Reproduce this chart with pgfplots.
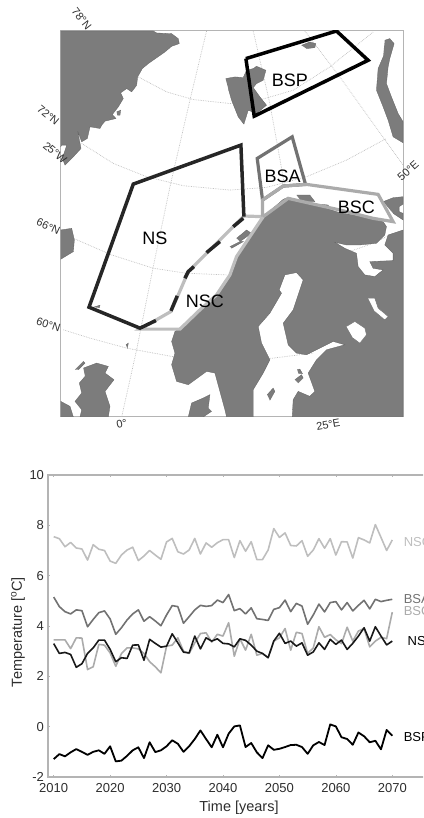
\documentclass[border=0pt]{standalone}
\usepackage{pgfplots}
\pgfplotsset{compat=1.18}
\usepackage{fontspec}
\setmainfont{Liberation Sans}
\definecolor{land}{HTML}{7C7C7C}
\definecolor{frm}{HTML}{B4B4B4}
\definecolor{txt}{HTML}{2E2E2E}
\definecolor{cNSC}{HTML}{BEBEBE}
\definecolor{cBSC}{HTML}{ABABAB}
\definecolor{cBSA}{HTML}{727272}
\definecolor{cNS}{HTML}{262626}
\definecolor{grat}{HTML}{BDBDBD}
\newcommand{\fs}[1]{\fontsize{#1pt}{#1pt}\selectfont}
\tikzset{fs17/.style={font=\fs{18},inner sep=0pt},fs10/.style={font=\fs{11},text=txt,inner sep=0pt}}
\pgfplotstableread{
year NSC BSA BSC NS BSP
2010 7.55 5.15 3.45 3.30 -1.29
2011 7.47 4.77 3.45 2.91 -1.09
2012 7.15 4.57 3.45 2.95 -1.18
2013 7.32 4.48 3.10 2.87 -1.02
2014 7.10 4.64 3.53 2.36 -0.89
2015 7.06 4.61 3.52 2.50 -1.00
2016 6.62 3.97 2.27 2.91 -1.12
2017 7.23 4.26 2.38 3.13 -1.00
2018 7.05 4.53 3.27 3.44 -0.94
2019 7.00 4.60 3.24 3.44 -1.08
2020 6.58 4.28 2.93 3.07 -0.78
2021 6.49 3.67 2.40 2.58 -1.38
2022 6.82 3.93 2.90 2.74 -1.35
2023 7.02 4.24 3.13 2.71 -1.16
2024 7.13 4.48 3.13 3.24 -0.94
2025 6.60 4.64 3.09 3.25 -0.82
2026 6.78 4.19 2.91 2.64 -1.25
2027 7.00 4.37 2.58 3.47 -0.62
2028 6.82 4.20 2.38 3.31 -1.01
2029 6.65 4.01 2.14 3.16 -0.94
2030 7.34 4.44 3.20 3.20 -0.78
2031 7.48 4.81 3.24 3.69 -0.54
2032 6.95 4.77 3.53 3.33 -0.68
2033 6.86 4.11 3.00 2.96 -1.00
2034 7.02 4.37 2.91 2.93 -0.78
2035 7.48 4.64 3.33 3.60 -0.49
2036 6.86 4.82 3.70 3.09 -0.15
2037 7.30 4.78 3.73 3.53 -0.49
2038 7.13 4.81 3.36 3.40 -0.82
2039 7.31 5.03 3.67 3.49 -0.32
2040 7.43 4.93 3.60 3.31 -0.82
2041 7.43 5.25 4.13 3.29 -0.28
2042 6.72 4.61 2.80 3.17 0.01
2043 7.39 4.69 3.49 3.49 0.05
2044 6.97 4.48 3.04 3.43 -0.81
2045 7.35 4.72 3.67 3.24 -0.65
2046 6.64 4.29 2.84 3.00 -1.02
2047 6.64 4.26 2.91 2.91 -1.25
2048 7.02 4.22 2.74 2.74 -0.74
2049 7.87 4.66 3.40 3.40 -0.92
2050 7.52 4.73 3.53 3.71 -0.88
2051 7.70 5.03 3.90 3.31 -0.81
2052 7.20 4.57 3.04 3.40 -0.73
2053 7.18 4.90 3.75 3.20 -0.72
2054 7.39 4.79 3.70 3.33 -0.81
2055 6.77 4.07 2.91 2.84 -1.08
2056 7.02 4.44 3.13 2.97 -0.74
2057 7.47 4.87 3.97 3.33 -0.61
2058 7.09 4.56 3.55 3.07 -0.73
2059 7.47 4.93 3.66 3.47 0.09
2060 6.82 4.97 3.45 3.27 0.01
2061 7.35 4.64 3.30 3.44 -0.42
2062 7.34 4.93 3.95 3.07 -0.49
2063 6.70 4.60 3.40 3.31 -0.72
2064 7.51 4.82 3.80 3.60 -0.23
2065 7.42 5.02 3.90 3.93 -0.38
2066 7.30 4.68 3.17 3.40 -0.62
2067 8.03 5.06 3.40 3.97 -0.56
2068 7.52 4.97 3.55 3.60 -0.90
2069 7.00 5.02 3.50 3.25 -0.13
2070 7.42 5.06 4.55 3.40 -0.36
}\series
\begin{document}
\begin{tikzpicture}[x=1pt,y=1pt]
\path[use as bounding box] (0,0) rectangle (423,818);
\clip (0,0) rectangle (423,818);
% MAP
\begin{axis}[
  at={(60.7pt,401pt)}, anchor=south west, scale only axis,
  width=342.4pt, height=386pt,
  xmin=62, xmax=1090, ymin=92, ymax=1252, y dir=reverse,
  xtick=\empty, ytick=\empty, clip mode=individual,
  axis line style={frm, line width=1pt},
  every axis plot/.append style={no marks, line join=miter},
]
% graticule
\pgfplotsset{gr/.style={grat, line width=0.7pt, densely dotted}}
\addplot[gr] coordinates {(295,230)(380,275)(460,298)(570,310)(640,305)(760,270)(870,200)(1000,95)};
\addplot[gr] coordinates {(125,430)(220,490)(320,530)(430,557)(570,570)(680,562)(800,530)(920,480)(1040,415)};
\addplot[gr] coordinates {(65,700)(100,715)(215,765)(340,805)(440,820)(560,825)};
\addplot[gr] coordinates {(900,765)(1000,730)(1060,700)};
\addplot[gr] coordinates {(70,990)(150,1015)(260,1045)(395,1070)(550,1085)(700,1075)(820,1060)};
\addplot[gr] coordinates {(245,1252)(290,1050)(340,800)(390,560)(450,300)(500,92)};
\addplot[gr] coordinates {(640,92)(690,310)(735,560)};
\addplot[gr] coordinates {(795,92)(900,230)(1090,495)};
% land
\pgfplotsset{ld/.style={fill=land, draw=land!80!black, line width=0.3pt}, wh/.style={fill=white, draw=land!80!black, line width=0.3pt}}
% Greenland
\addplot[ld] coordinates {(62,92)(340,92)(350,98)(395,100)(415,115)(418,130)(395,138)(375,155)(325,190)(307,205)(293,230)(290,255)(275,275)(260,265)(242,278)(250,295)(235,320)(217,343)(228,355)(195,363)(185,375)(180,385)(150,380)(142,415)(125,425)(113,393)(123,445)(100,470)(75,495)(67,475)(80,435)(65,435)(62,440)};
\addplot[ld] coordinates {(230,335)(242,330)(240,345)(232,345)};
% Svalbard
\addplot[ld] coordinates {(557,235)(585,230)(610,232)(620,210)(640,205)(650,198)(678,210)(670,240)(650,250)(640,262)(660,290)(680,315)(650,340)(625,330)(612,372)(595,350)(575,300)(565,265)};
\addplot[ld] coordinates {(785,135)(810,125)(828,130)(825,142)(800,145)};
% Novaya Zemlya
\addplot[ld] coordinates {(1035,120)(1050,115)(1063,130)(1050,175)(1045,200)(1040,250)(1055,290)(1075,340)(1090,365)(1090,428)(1060,410)(1045,360)(1030,320)(1010,270)(1015,205)(1030,170)};
% mainland
\addplot[ld] coordinates {(670,650)(730,598)(745,592)(800,605)(900,638)(1000,655)(1030,665)(1040,680)(1035,705)(1010,730)(960,735)(920,735)(885,727)(915,745)(950,760)(955,800)(975,825)(1005,830)(1030,810)(1000,805)(990,785)(1060,782)(1060,760)(1035,735)(1045,705)(1090,690)(1090,1252)(757,1252)(760,1200)(775,1175)(810,1190)(825,1175)(805,1120)(830,1080)(860,1050)(915,1035)(880,1025)(840,1045)(800,1065)(770,1060)(745,1035)(730,970)(760,930)(790,840)(770,818)(735,825)(718,870)(725,880)(690,940)(655,980)(665,1030)(690,1080)(670,1120)(640,1170)(640,1252)(560,1252)(555,1230)(525,1120)(500,1115)(445,1155)(410,1145)(395,1095)(405,1060)(395,1025)(405,995)(425,980)(480,930)(530,885)(570,825)(590,770)};
% lakes
\addplot[wh] coordinates {(920,980)(945,965)(975,985)(980,1005)(960,1030)(940,1015)};
\addplot[wh] coordinates {(985,895)(1005,895)(1015,925)(1045,950)(1035,960)(1005,935)};
% islands
\addplot[ld] coordinates {(770,585)(810,585)(825,605)(785,605)};
\addplot[ld] coordinates {(845,613)(865,615)(868,622)(848,620)};
\addplot[ld] coordinates {(1030,605)(1060,593)(1090,590)(1090,612)(1078,620)(1078,635)(1090,640)(1090,660)(1060,640)};
\addplot[ld] coordinates {(590,715)(620,690)(635,700)(600,725)};
\addplot[ld] coordinates {(570,740)(600,725)(610,725)(575,745)};
\addplot[ld] coordinates {(105,1110)(130,1085)(135,1090)(115,1110)};
\addplot[ld] coordinates {(130,1105)(170,1090)(205,1100)(195,1120)(222,1140)(195,1175)(210,1220)(205,1252)(120,1252)(125,1230)(105,1205)(125,1180)(118,1150)(135,1130)};
\addplot[ld] coordinates {(62,1205)(90,1220)(100,1252)(62,1252)};
\addplot[ld] coordinates {(445,1252)(455,1210)(490,1195)(510,1185)(505,1225)(515,1235)(490,1252)};
\addplot[ld] coordinates {(682,1185)(700,1165)(705,1175)(690,1202)};
\addplot[ld] coordinates {(765,1140)(785,1125)(790,1135)(775,1150)};
\addplot[ld] coordinates {(772,1110)(780,1108)(788,1122)(776,1122)};
\addplot[ld] coordinates {(62,690)(95,685)(103,720)(100,755)(62,778)};
\addplot[ld] coordinates {(258,1035)(265,1030)(262,1046)};
\addplot[ld] coordinates {(160,922)(180,916)(178,924)};
% regions
\addplot[cNSC, line width=3.2pt] coordinates {(670,650)(612,648)(445,815)(415,885)(393,935)(300,988)(420,988)(480,930)(530,885)(570,825)(590,770)(670,650)};
\addplot[cBSA, line width=3.2pt] coordinates {(668,600)(652,475)(757,410)(797,553)(730,558)(668,600)};
\addplot[cBSC, line width=3.2pt] coordinates {(668,650)(668,600)(730,558)(800,553)(1015,583)(1060,665)(1000,655)(900,630)(745,595)(670,650)};
\addplot[black, line width=3.5pt] coordinates {(618,175)(890,92)(985,180)(643,348)(618,175)};
\addplot[cNS, line width=3.5pt] coordinates {(612,650)(603,435)(280,552)(147,922)(300,985)(348,962)};
\addplot[cNS, line width=3.5pt] coordinates {(610,655)(580,680)};
\addplot[cNS, line width=3.5pt] coordinates {(540,725)(500,758)};
\addplot[cNS, line width=3.5pt] coordinates {(462,800)(445,815)(435,835)};
\addplot[cNS, line width=3.5pt] coordinates {(412,888)(393,933)};
% labels
\node[fs17,black] at (axis cs:750,240) {BSP};
\node[fs17,black] at (axis cs:728,528) {BSA};
\node[fs17,black] at (axis cs:950,622) {BSC};
\node[fs17,black] at (axis cs:345,715) {NS};
\node[fs17,black] at (axis cs:495,903) {NSC};
\node[fs10,rotate=-52] at (axis cs:125,55) {78°N};
\node[fs10,rotate=-40] at (axis cs:25,345) {72°N};
\node[fs10,rotate=-40] at (axis cs:45,458) {25°W};
\node[fs10,rotate=-25] at (axis cs:25,680) {66°N};
\node[fs10,rotate=-18] at (axis cs:25,975) {60°N};
\node[fs10,rotate=12] at (axis cs:245,1272) {0°};
\node[fs10,rotate=10] at (axis cs:865,1275) {25°E};
\node[fs10,rotate=42] at (axis cs:1105,512) {50°E};
\end{axis}
% CHART
\begin{axis}[
  at={(48pt,41pt)}, anchor=south west, scale only axis,
  width=380pt, height=302pt,
  xmin=2008.99, xmax=2076.33, ymin=-2, ymax=10,
  xtick={2010,2020,...,2070}, ytick={-2,0,...,10},
  /pgf/number format/assume math mode=true,
  /pgf/number format/1000 sep={},
  xticklabel style={font=\fs{13}, text=txt, yshift=-3pt},
  yticklabel style={font=\fs{13}, text=txt, xshift=-0.5pt},
  tick align=inside, major tick length=2pt, tick style={frm, line width=0.6pt},
  axis line style={frm, line width=1.2pt},
  xlabel={Time [years]}, ylabel={Temperature [$^{\mathrm{o}}$C]},
  xlabel style={font=\fs{14.5}, text=txt, at={(axis description cs:0.5,0)}, anchor=center, xshift=1pt, yshift=-31pt},
  ylabel style={font=\fs{14.5}, text=txt, at={(axis description cs:0,0.48)}, anchor=center, yshift=30pt},
  clip mode=individual,
  every axis plot/.append style={no marks, line join=round},
]
\addplot[cNSC, line width=1.6pt] table[x=year,y=NSC] {\series};
\addplot[cBSA, line width=1.6pt] table[x=year,y=BSA] {\series};
\addplot[cBSC, line width=1.6pt] table[x=year,y=BSC] {\series};
\addplot[black!90, line width=1.6pt] table[x=year,y=NS] {\series};
\addplot[black, line width=1.8pt] table[x=year,y=BSP] {\series};
\node[font=\fs{13},text=cNSC,anchor=west,inner sep=0] at (axis cs:2072,7.35) {NSC};
\node[font=\fs{13},text=cBSA,anchor=west,inner sep=0] at (axis cs:2072,5.08) {BSA};
\node[font=\fs{13},text=cBSC,anchor=west,inner sep=0] at (axis cs:2072,4.58) {BSC};
\node[font=\fs{13},text=black,anchor=west,inner sep=0] at (axis cs:2072.7,3.40) {NSC};
\node[font=\fs{13},text=black,anchor=west,inner sep=0] at (axis cs:2072,-0.40) {BSP};
\end{axis}
\end{tikzpicture}
\end{document}
